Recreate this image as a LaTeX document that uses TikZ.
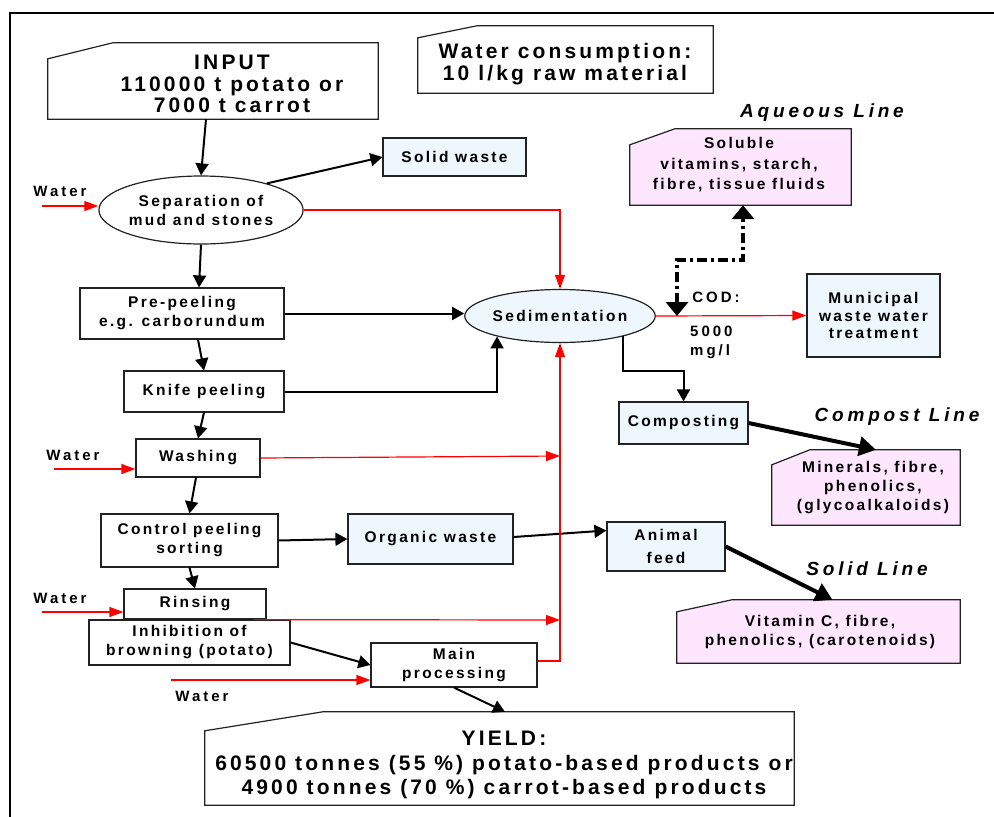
\documentclass[tikz,border=0pt]{standalone}
\usepackage{fontspec}
\setmainfont{Liberation Sans}
\newfontfamily\trk{Liberation Sans}[LetterSpace=15]
\newfontfamily\trkw{Liberation Sans}[LetterSpace=20]
\usetikzlibrary{arrows.meta,shapes.geometric}
\definecolor{lblue}{HTML}{EEF6FE}
\definecolor{lpink}{HTML}{FFE6FF}
\definecolor{edge}{HTML}{222222}
\definecolor{wred}{HTML}{FF0000}
\begin{document}
\begin{tikzpicture}[x=1pt,y=-1pt,
  bigtxt/.style={font=\trk\bfseries\fontsize{21}{21.5}\selectfont, align=center, inner sep=0},
  txt/.style={font=\trk\bfseries\fontsize{15.5}{19}\selectfont, align=center, inner sep=0},
  linelbl/.style={font=\trkw\bfseries\itshape\fontsize{19}{22}\selectfont, inner sep=0},
  wlbl/.style={font=\trkw\bfseries\fontsize{15}{19}\selectfont, inner sep=0, align=left},
  box/.style={draw=edge, line width=1.2pt, rectangle, inner sep=0, align=center, font=\trk\bfseries\fontsize{15.5}{19}\selectfont},
  wbox/.style={box, fill=white},
  bbox/.style={box, fill=lblue},
  ell/.style={box, ellipse},
  frame/.style={draw=edge, line width=1.2pt},
  ghost/.style={rectangle, inner sep=0},
  flow/.style={draw=black, line width=2pt, -{Triangle[length=12pt,width=13pt]}},
  wflow/.style={draw=wred, line width=1.2pt, -{Triangle[length=14pt,width=10pt]}},
  heavy/.style={draw=black, line width=4pt, -{Triangle[length=17pt,width=19pt]}},
  dd/.style={draw=black, line width=4.5pt, dash pattern=on 10pt off 4pt on 3pt off 4pt, {Triangle[length=14pt,width=22pt]}-{Triangle[length=14pt,width=22pt]}},
]
\useasboundingbox (0,0) rectangle (994,817);
\fill[white] (0,0) rectangle (994,817);
\draw[black, line width=2.5pt] (10,817) -- (10,13) -- (994,13);

% pentagon boxes
\node[ghost, minimum width=330pt, minimum height=76pt] (input) at (213,81) {};
\draw[frame, fill=white] (input.south west) -- ([yshift=-16pt]input.north west) -- ([xshift=65pt]input.north west) -- (input.north east) -- (input.south east) -- cycle;
\node[bigtxt] (inputt) at (232,84) {INPUT\\110000 t potato or\\7000 t carrot};

\node[ghost, minimum width=295pt, minimum height=67pt] (wcons) at (565.5,59.5) {};
\draw[frame, fill=white] (wcons.south west) -- ([yshift=-12pt]wcons.north west) -- ([xshift=59pt]wcons.north west) -- (wcons.north east) -- (wcons.south east) -- cycle;
\node[bigtxt] (wconst) at (565,64) {Water consumption:\\10 l/kg raw material};

\node[ghost, minimum width=589pt, minimum height=93pt] (yield) at (499.5,758.5) {};
\draw[frame, fill=white] (yield.south west) -- ([yshift=-19pt]yield.north west) -- ([xshift=118pt]yield.north west) -- (yield.north east) -- (yield.south east) -- cycle;
\node[bigtxt, font=\trk\bfseries\fontsize{21}{24.5}\selectfont] (yieldt) at (504,765) {YIELD:\\60500 tonnes (55 \%) potato-based products or\\4900 tonnes (70 \%) carrot-based products};

\node[ghost, minimum width=221pt, minimum height=76pt] (aqueous) at (740.5,167) {};
\draw[frame, fill=lpink] (aqueous.south west) -- ([yshift=-16pt]aqueous.north west) -- ([xshift=45pt]aqueous.north west) -- (aqueous.north east) -- (aqueous.south east) -- cycle;
\node[txt, font=\trk\bfseries\fontsize{15.5}{20.5}\selectfont] (aqueoust) at (739,165) {Soluble\\vitamins, starch,\\fibre, tissue fluids};

\node[ghost, minimum width=188pt, minimum height=75pt] (minerals) at (866,487.5) {};
\draw[frame, fill=lpink] (minerals.south west) -- ([yshift=-15pt]minerals.north west) -- ([xshift=38pt]minerals.north west) -- (minerals.north east) -- (minerals.south east) -- cycle;
\node[txt] (mineralst) at (873,488) {Minerals, fibre,\\phenolics,\\(glycoalkaloids)};

\node[ghost, minimum width=283pt, minimum height=63pt] (vitc) at (818.5,631.5) {};
\draw[frame, fill=lpink] (vitc.south west) -- ([yshift=-12pt]vitc.north west) -- ([xshift=55pt]vitc.north west) -- (vitc.north east) -- (vitc.south east) -- cycle;
\node[txt] (vitct) at (820,632) {Vitamin C, fibre,\\phenolics, (carotenoids)};

% process boxes
\node[bbox, minimum width=143pt, minimum height=38pt] (solid) at (454.5,157) {Solid waste};
\node[ell, fill=white, minimum width=177pt, minimum height=68pt] (sep) at (201,210) {Separation of\\mud and stones};
\node[ell, fill=lblue, minimum width=165pt, minimum height=53pt] (sed) at (560,316) {Sedimentation};
\node[wbox, minimum width=204pt, minimum height=51pt] (prepeel) at (182,313.5) {Pre-peeling\\e.g. carborundum};
\node[wbox, minimum width=160pt, minimum height=41pt] (knife) at (204,391.5) {Knife peeling};
\node[wbox, minimum width=124pt, minimum height=38pt] (washing) at (198,458) {Washing};
\node[wbox, minimum width=177pt, minimum height=53pt] (control) at (189.5,540.5) {Control peeling\\sorting};
\node[bbox, minimum width=165pt, minimum height=50pt] (organic) at (430.5,539) {Organic waste};
\node[bbox, minimum width=118pt, minimum height=49pt, font=\trk\bfseries\fontsize{15.5}{23}\selectfont] (animal) at (666,546.5) {Animal\\feed};
\node[wbox, minimum width=142pt, minimum height=30pt] (rinsing) at (195,604) {Rinsing};
\node[wbox, minimum width=201pt, minimum height=45pt] (inhib) at (189.5,642.5) {Inhibition of\\browning (potato)};
\node[wbox, minimum width=166pt, minimum height=44pt] (main) at (454,665) {Main\\processing};
\node[bbox, minimum width=129pt, minimum height=42pt] (compost) at (683.5,423) {Composting};
\node[bbox, minimum width=133pt, minimum height=83pt, font=\trk\bfseries\fontsize{15.5}{17.5}\selectfont] (muni) at (873.5,315.5) {Municipal\\waste water\\treatment};

% labels
\node[wlbl] (wl1) at (60,191) {Water};
\node[wlbl] (wl2) at (73,455) {Water};
\node[wlbl] (wl3) at (60,598) {Water};
\node[wlbl] (wl4) at (202,696) {Water};
\node[wlbl] (cod) at (716,297) {COD:};
\node[wlbl, anchor=west] (codv) at (690,342) {5000\\mg/l};
\node[linelbl] (aql) at (822,113) {Aqueous Line};
\node[linelbl] (cpl) at (897,417) {Compost Line};
\node[linelbl] (sll) at (867,569) {Solid Line};

% free ends
\coordinate (w1) at (42,206);
\coordinate (w2) at (54,469);
\coordinate (w3) at (42,612);
\coordinate (w4) at (171,680);
\coordinate (j1) at (560,456);
\coordinate (j2) at (560,620);
\coordinate (codpt) at (677,316);

% black flow
\draw[flow] ([xshift=-7pt]input.south) -- (sep.north);
\draw[flow] (sep.22) -- (solid.west);
\draw[flow] (sep.south) -- ([xshift=17pt]prepeel.north);
\draw[flow] (prepeel.east) -- (prepeel.east -| sed.west);
\draw[flow] ([xshift=16pt]prepeel.south) -- (knife.north);
\draw[flow] (knife.east) -| (sed.198);
\draw[flow] (knife.south) -- (washing.north);
\draw[flow] ([xshift=-2pt]washing.south) -- (control.north);
\draw[flow] (control.east) -- (organic.west);
\draw[flow] ([yshift=2pt]organic.east) -- ([yshift=16pt]animal.west);
\draw[flow] (control.south) -- (rinsing.north);
\draw[flow] (inhib.east) -- (main.west);
\draw[flow] (main.south) -- ([xshift=5.5pt]yield.north);
\draw[flow] (sed.342) |- ([yshift=30pt]compost.north) -- (compost.north);
\draw[heavy] (animal.east) -- ([xshift=14pt]vitc.north);
\draw[heavy] (compost.east) -- ([xshift=10pt]minerals.north);

% red water flow
\draw[wflow] (w1) -- (w1 -| sep.west);
\draw[wflow] (w2) -- (w2 -| washing.west);
\draw[wflow] (w3) -- (w3 -| rinsing.west);
\draw[wflow] (w4) -- (w4 -| main.west);
\draw[wflow] (sep.east) -| (sed.north);
\draw[wflow] (washing.east) -- (j1);
\draw[wflow] ([xshift=-13pt]rinsing.south east) -- (j2);
\draw[wflow] ([yshift=4pt]main.east) -| (sed.south);
\draw[wflow] (sed.east) -- (muni.west);

% dash-dot aqueous connector
\draw[dd] (codpt) |- ([xshift=2.5pt,yshift=-55pt]aqueous.south) -- ([xshift=2.5pt]aqueous.south);
\end{tikzpicture}
\end{document}
